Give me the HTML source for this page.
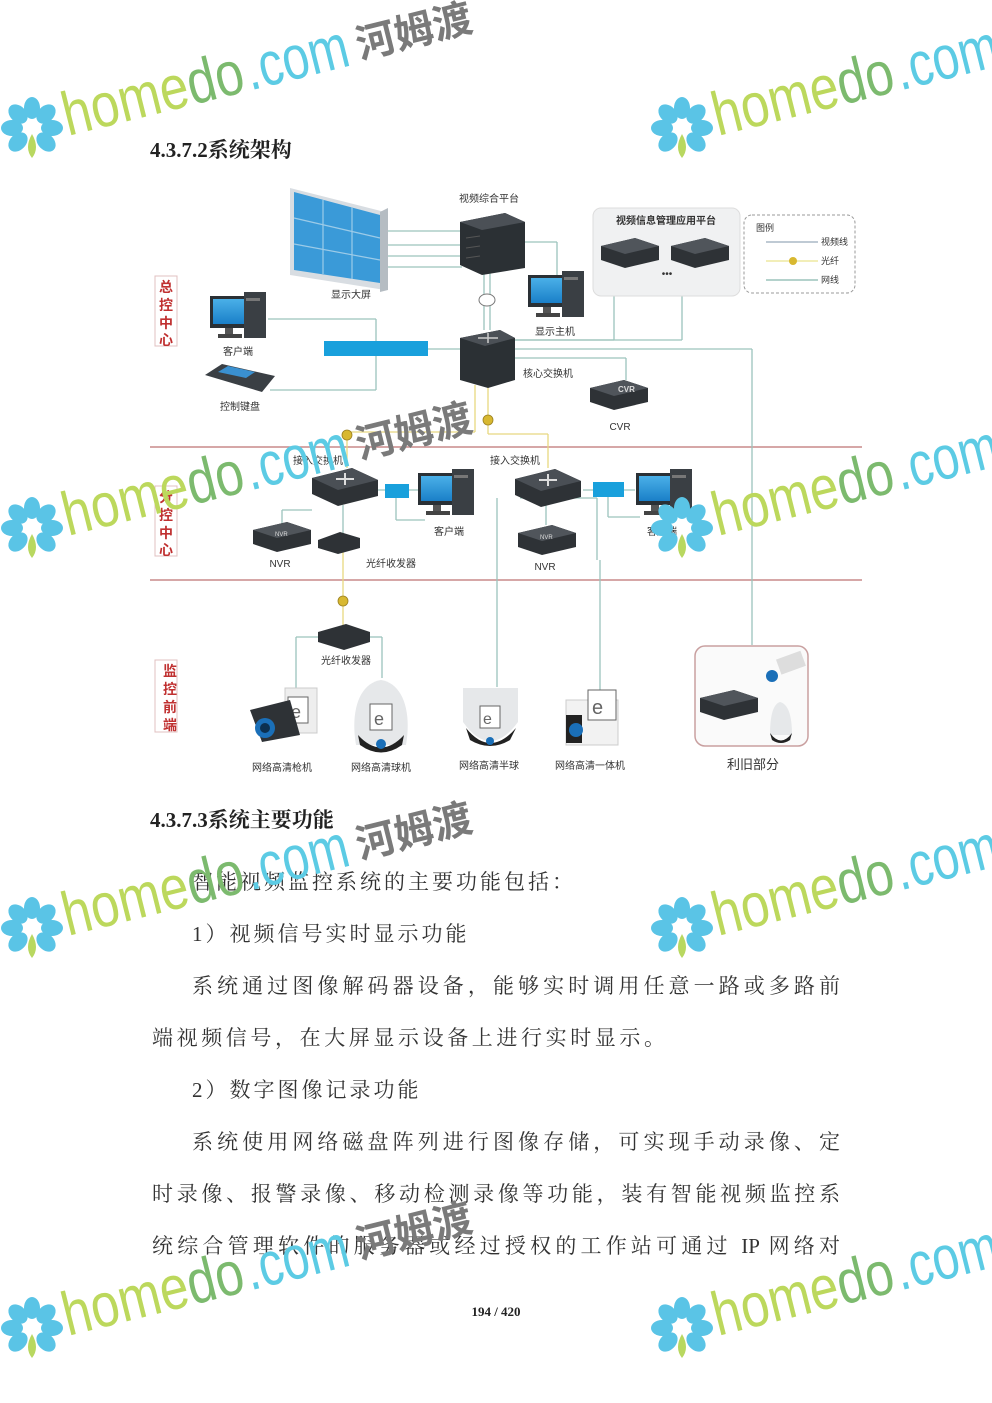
<!DOCTYPE html>
<html><head><meta charset="utf-8">
<style>
html,body{margin:0;padding:0;background:#fff;}
body{width:992px;height:1403px;position:relative;overflow:hidden;font-family:"Liberation Serif","Noto Serif CJK SC",serif;color:#222;}
.t{position:absolute;white-space:nowrap;}
.h{font-size:21px;font-weight:bold;left:150px;}
.p{font-family:"Liberation Serif","Noto Serif CJK SC",serif;font-size:21px;color:#333;transform-origin:0 0;}
.j{left:152px;width:688px;text-align:justify;text-align-last:justify;}
svg{position:absolute;left:0;top:0;}
</style></head><body>

<div class="t h" style="top:134px;">4.3.7.2系统架构</div>

<svg width="992" height="1403" viewBox="0 0 992 1403" style="font-family:'Liberation Sans','Noto Sans CJK SC',sans-serif;">
<defs>
<linearGradient id="blue" x1="0" y1="0" x2="0" y2="1"><stop offset="0" stop-color="#4ab0e8"/><stop offset="1" stop-color="#1a7fc8"/></linearGradient>
<g id="pc">
 <rect x="0" y="0" width="38" height="32" fill="#2a3035"/><rect x="3" y="3" width="32" height="25" fill="url(#blue)"/>
 <rect x="15" y="32" width="8" height="6" fill="#555"/><rect x="8" y="38" width="24" height="4" fill="#444"/>
 <rect x="34" y="-4" width="22" height="46" fill="#3a3f44"/><rect x="36" y="2" width="14" height="3" fill="#777"/>
</g>
<g id="sw">
 <polygon points="0,10 40,0 66,12 66,28 26,38 0,26" fill="#2e3236"/>
 <polygon points="0,10 40,0 66,12 26,22" fill="#4a4f55"/>
 <g stroke="#ddd" stroke-width="2"><line x1="24" y1="11" x2="42" y2="11"/><line x1="33" y1="5" x2="33" y2="17"/></g>
</g>
<g id="box">
 <polygon points="0,8 34,0 58,8 58,22 24,30 0,22" fill="#2e3236"/>
 <polygon points="0,8 34,0 58,8 24,16" fill="#50555b"/>
</g>
</defs>

<!-- red separators -->
<line x1="150" y1="447" x2="862" y2="447" stroke="#c98a8a" stroke-width="1.5"/>
<line x1="150" y1="580" x2="862" y2="580" stroke="#c98a8a" stroke-width="1.5"/>
<!-- side labels -->
<g font-size="14" fill="#c03030" font-weight="bold" text-anchor="middle">
 <rect x="155" y="276" width="22" height="70" fill="none" stroke="#e0c0c0"/>
 <text x="166" y="292">总</text><text x="166" y="310">控</text><text x="166" y="328">中</text><text x="166" y="345">心</text>
 <rect x="155" y="486" width="22" height="70" fill="none" stroke="#e0c0c0"/>
 <text x="166" y="502">分</text><text x="166" y="520">控</text><text x="166" y="538">中</text><text x="166" y="555">心</text>
 <rect x="155" y="660" width="22" height="72" fill="none" stroke="#e0c0c0"/>
 <text x="170" y="676">监</text><text x="170" y="694">控</text><text x="170" y="712">前</text><text x="170" y="730">端</text>
</g>

<!-- connection lines -->
<g stroke="#9cc4bc" stroke-width="1.3" fill="none">
 <line x1="385" y1="231" x2="462" y2="231"/><line x1="385" y1="245" x2="462" y2="245"/><line x1="385" y1="256" x2="462" y2="256"/><line x1="385" y1="267" x2="462" y2="267"/>
 <line x1="524" y1="242" x2="557" y2="242"/><line x1="557" y1="242" x2="557" y2="275"/>
 <line x1="484" y1="270" x2="484" y2="330"/><line x1="490" y1="270" x2="490" y2="330"/>
 <line x1="268" y1="319" x2="376" y2="319"/><line x1="376" y1="319" x2="376" y2="390"/><line x1="270" y1="390" x2="376" y2="390"/>
 <line x1="428" y1="349" x2="462" y2="349"/>
 <line x1="515" y1="340" x2="614" y2="340"/><line x1="614" y1="340" x2="614" y2="270"/>
 <line x1="515" y1="340" x2="682" y2="340"/><line x1="682" y1="340" x2="682" y2="270"/>
 <line x1="515" y1="349" x2="752" y2="349"/><line x1="752" y1="349" x2="752" y2="645"/>
 <line x1="515" y1="358" x2="626" y2="358"/><line x1="626" y1="358" x2="626" y2="380"/>
 <line x1="343" y1="505" x2="343" y2="535"/><line x1="282" y1="510" x2="282" y2="525"/><line x1="282" y1="510" x2="312" y2="510"/>
 <line x1="378" y1="490" x2="418" y2="490"/><line x1="396" y1="497" x2="396" y2="520"/><line x1="396" y1="520" x2="425" y2="520"/>
 <line x1="546" y1="505" x2="546" y2="525"/>
 <line x1="583" y1="490" x2="635" y2="490"/><line x1="608" y1="497" x2="608" y2="517"/><line x1="608" y1="517" x2="640" y2="517"/>
 <line x1="497" y1="498" x2="497" y2="687"/><line x1="520" y1="498" x2="597" y2="498"/><line x1="597" y1="498" x2="597" y2="560"/><line x1="600" y1="560" x2="600" y2="690"/>
 <line x1="296" y1="637" x2="296" y2="693"/><line x1="296" y1="637" x2="320" y2="637"/><line x1="370" y1="637" x2="382" y2="637"/><line x1="382" y1="637" x2="382" y2="678"/>
</g>
<g stroke="#e8d880" stroke-width="1.3" fill="none">
 <line x1="475" y1="385" x2="475" y2="432"/><line x1="475" y1="432" x2="347" y2="432"/><line x1="347" y1="432" x2="347" y2="468"/>
 <line x1="488" y1="385" x2="488" y2="434"/><line x1="488" y1="434" x2="548" y2="434"/><line x1="548" y1="434" x2="548" y2="468"/>
 <line x1="343" y1="552" x2="343" y2="625"/>
</g>
<g fill="#d8b830" stroke="#9a8020" stroke-width="0.8">
 <circle cx="347" cy="435" r="5"/><circle cx="488" cy="420" r="5"/><circle cx="343" cy="601" r="5"/>
</g>
<ellipse cx="487" cy="300" rx="8" ry="6" fill="#fff" stroke="#777"/>

<!-- video wall -->
<polygon points="290,188 385,212 385,290 290,275" fill="#d8dde2"/>
<polygon points="294,192 380,215 380,283 294,270" fill="#3a9ad8"/>
<g stroke="#9ccbe8" stroke-width="1.2"><line x1="323" y1="200" x2="323" y2="274"/><line x1="352" y1="207" x2="352" y2="279"/><line x1="294" y1="218" x2="380" y2="238"/><line x1="294" y1="244" x2="380" y2="260"/></g>
<polygon points="380,212 388,208 388,290 380,292" fill="#b5bcc2"/>

<!-- platform rack -->
<polygon points="460,222 505,213 525,222 525,268 482,275 460,265" fill="#2b3034"/>
<polygon points="460,222 505,213 525,222 482,230" fill="#4b5056"/>
<g stroke="#555" stroke-width="1"><line x1="466" y1="238" x2="480" y2="236"/><line x1="466" y1="248" x2="480" y2="246"/><line x1="466" y1="258" x2="480" y2="256"/></g>
<!-- core switch -->
<polygon points="460,338 500,330 515,338 515,380 488,388 460,380" fill="#2b3034"/>
<polygon points="460,338 500,330 515,338 485,346" fill="#4b5056"/>
<g stroke="#ccc" stroke-width="1.5"><line x1="478" y1="338" x2="498" y2="338"/><line x1="488" y1="333" x2="488" y2="343"/></g>

<use href="#pc" x="528" y="275"/>
<use href="#pc" x="210" y="296"/>
<use href="#pc" x="418" y="473"/>
<use href="#pc" x="636" y="473"/>
<!-- keyboard -->
<polygon points="205,375 222,364 275,376 262,392" fill="#3a3f44"/><polygon points="218,372 228,366 255,372 246,378" fill="#3a90d0"/>
<!-- blue bars -->
<rect x="324" y="341" width="104" height="15" fill="#19a0dc"/>
<rect x="385" y="484" width="24" height="14" fill="#19a0dc"/>
<rect x="593" y="482" width="31" height="15" fill="#19a0dc"/>

<!-- info platform -->
<rect x="593" y="208" width="147" height="88" rx="8" fill="#f0f1f2" stroke="#ddd"/>
<use href="#box" x="601" y="238" transform="scale(1)"/>
<use href="#box" x="671" y="238"/>
<text x="666" y="224" font-size="10" font-weight="bold" fill="#333" text-anchor="middle">视频信息管理应用平台</text>
<text x="667" y="277" font-size="10" fill="#333" text-anchor="middle">•••</text>
<!-- legend -->
<rect x="744" y="215" width="111" height="78" rx="8" fill="#fff" stroke="#999" stroke-dasharray="3,2"/>
<text x="756" y="231" font-size="9" fill="#333">图例</text>
<line x1="766" y1="242" x2="818" y2="242" stroke="#aab8c6" stroke-width="1.5"/><text x="821" y="245" font-size="9" fill="#333">视频线</text>
<line x1="766" y1="261" x2="818" y2="261" stroke="#eee8a0" stroke-width="1.5"/><circle cx="793" cy="261" r="4" fill="#d8b830"/><text x="821" y="264" font-size="9" fill="#333">光纤</text>
<line x1="766" y1="280" x2="818" y2="280" stroke="#9cc4bc" stroke-width="1.5"/><text x="821" y="283" font-size="9" fill="#333">网线</text>

<!-- CVR -->
<use href="#box" x="590" y="380" transform="translate(-0,0)"/>
<text x="618" y="392" font-size="8" fill="#ddd" font-weight="bold">CVR</text>

<!-- access switches -->
<use href="#sw" x="312" y="468"/>
<use href="#sw" x="515" y="469"/>
<!-- NVRs & transceivers -->
<use href="#box" x="253" y="522"/><text x="275" y="536" font-size="6" fill="#ddd">NVR</text>
<use href="#box" x="518" y="525"/><text x="540" y="539" font-size="6" fill="#ddd">NVR</text>
<polygon points="318,540 340,532 360,538 360,548 338,554 318,548" fill="#2e3236"/>
<polygon points="318,632 346,624 370,632 370,642 344,650 318,642" fill="#2e3236"/>

<!-- cameras -->
<g>
 <rect x="285" y="688" width="32" height="45" fill="#eee" stroke="#ccc"/><rect x="288" y="697" width="20" height="26" fill="#fff" stroke="#666"/><text x="291" y="718" font-size="18" fill="#666">e</text>
 <polygon points="250,710 290,700 300,735 262,742" fill="#2e3236"/><circle cx="265" cy="728" r="10" fill="#1a6fb8"/><circle cx="265" cy="728" r="5" fill="#0c3050"/>
</g>
<g>
 <path d="M356,745 C350,710 360,683 381,680 C402,683 412,710 406,745 Z" fill="#e6e8ea"/>
 <path d="M358,735 Q381,760 404,735 L402,745 Q381,760 360,745Z" fill="#222"/><circle cx="381" cy="744" r="5" fill="#1a6fb8"/>
 <rect x="370" y="704" width="22" height="26" fill="#fff" stroke="#666"/><text x="374" y="725" font-size="18" fill="#666">e</text>
</g>
<g>
 <path d="M463,688 L518,688 L518,722 Q490,760 463,722Z" fill="#e6e8ea"/>
 <path d="M466,728 Q490,758 516,728 L510,740 Q490,752 470,740Z" fill="#222"/><circle cx="490" cy="741" r="4" fill="#1a6fb8"/>
 <rect x="480" y="706" width="20" height="22" fill="#fff" stroke="#666"/><text x="483" y="724" font-size="16" fill="#666">e</text>
</g>
<g>
 <rect x="566" y="700" width="52" height="45" fill="#f2f2f2" stroke="#ccc"/><rect x="588" y="690" width="28" height="30" fill="#fff" stroke="#666"/><text x="592" y="714" font-size="20" fill="#666">e</text>
 <rect x="566" y="715" width="16" height="28" fill="#222"/><circle cx="576" cy="730" r="7" fill="#1a6fb8"/>
</g>

<!-- legacy box -->
<rect x="695" y="646" width="113" height="100" rx="10" fill="#fafafa" stroke="#c9a0a0" stroke-width="1.5"/>
<use href="#box" x="700" y="690"/>
<g><rect x="778" y="655" width="26" height="16" fill="#ddd" transform="rotate(-20 790 663)"/><circle cx="772" cy="676" r="6" fill="#1a6fb8"/></g>
<g><path d="M770,735 Q770,705 780,702 Q792,705 792,735Z" fill="#e6e8ea"/><path d="M770,733 Q781,748 792,733 L790,740 Q781,746 772,740Z" fill="#222"/></g>

<!-- labels -->
<g font-size="10" fill="#333" text-anchor="middle">
 <text x="489" y="202">视频综合平台</text>
 <text x="351" y="298">显示大屏</text>
 <text x="555" y="335">显示主机</text>
 <text x="238" y="355">客户端</text>
 <text x="240" y="410">控制键盘</text>
 <text x="548" y="377">核心交换机</text>
 <text x="620" y="430">CVR</text>
 <text x="318" y="464">接入交换机</text>
 <text x="515" y="464">接入交换机</text>
 <text x="449" y="535">客户端</text>
 <text x="662" y="535">客户端</text>
 <text x="280" y="567">NVR</text>
 <text x="391" y="567">光纤收发器</text>
 <text x="545" y="570">NVR</text>
 <text x="346" y="664">光纤收发器</text>
 <text x="282" y="771">网络高清枪机</text>
 <text x="381" y="771">网络高清球机</text>
 <text x="489" y="769">网络高清半球</text>
 <text x="590" y="769">网络高清一体机</text>
 <text x="753" y="769" font-size="13">利旧部分</text>
</g>
</svg>

<div class="t h" style="top:804px;">4.3.7.3系统主要功能</div>
<div class="t p" style="left:192px;top:866px;letter-spacing:3px;">智能视频监控系统的主要功能包括：</div>
<div class="t p" style="left:192px;top:918px;letter-spacing:3px;">1）视频信号实时显示功能</div>
<div class="t p j" style="left:192px;width:648px;top:970px;">系统通过图像解码器设备，能够实时调用任意一路或多路前</div>
<div class="t p" style="left:152px;top:1022px;letter-spacing:3.6px;">端视频信号，在大屏显示设备上进行实时显示。</div>
<div class="t p" style="left:192px;top:1074px;letter-spacing:3px;">2）数字图像记录功能</div>
<div class="t p j" style="left:192px;width:648px;top:1126px;">系统使用网络磁盘阵列进行图像存储，可实现手动录像、定</div>
<div class="t p j" style="top:1178px;">时录像、报警录像、移动检测录像等功能，装有智能视频监控系</div>
<div class="t p j" style="top:1230px;">统综合管理软件的服务器或经过授权的工作站可通过 IP 网络对</div>
<div class="t" style="left:0;width:992px;text-align:center;top:1304px;font-size:13px;font-weight:bold;">194 / 420</div>

<!-- watermarks -->
<svg width="992" height="1403" viewBox="0 0 992 1403">
<defs>
<g id="fl">
 <g fill="#5ac4e6">
  <ellipse cx="0" cy="-20" rx="8" ry="11"/><ellipse cx="14" cy="-14" rx="8" ry="11" transform="rotate(45 14 -14)"/>
  <ellipse cx="20" cy="0" rx="11" ry="8"/><ellipse cx="14" cy="14" rx="8" ry="11" transform="rotate(-45 14 14)"/>
  <ellipse cx="-14" cy="-14" rx="8" ry="11" transform="rotate(-45 -14 -14)"/><ellipse cx="-20" cy="0" rx="11" ry="8"/>
  <ellipse cx="-14" cy="14" rx="8" ry="11" transform="rotate(45 -14 14)"/>
 </g>
 <path d="M0,6 Q-8,20 0,30 Q8,20 0,6Z" fill="#b8d860"/>
</g>
<g id="wm">
 <use href="#fl" x="32" y="128"/>
 <g transform="translate(68,136) rotate(-14)" font-family="'Liberation Sans',sans-serif" font-size="62">
  <text x="0" y="0" textLength="180" lengthAdjust="spacingAndGlyphs"><tspan fill="#bcd85c">home</tspan><tspan fill="#7cba6e">do</tspan><tspan fill="#5ccbe4">.com</tspan></text>
 </g>
</g>
<g id="wmL">
 <use href="#wm"/>
 <g transform="translate(68,136) rotate(-14)">
  <text x="0" y="0" font-family="'Liberation Sans',sans-serif" font-size="62" textLength="290" lengthAdjust="spacingAndGlyphs" fill="none"> </text>
 </g>
</g>
</defs>
<g id="w0">
 <use href="#fl" x="32" y="128"/>
 <g transform="translate(68,136) rotate(-14)" font-family="'Liberation Sans',sans-serif" font-size="62">
  <text x="0" y="0" textLength="185" lengthAdjust="spacingAndGlyphs" fill="#bcd85c">home<tspan fill="#7cba6e">do</tspan></text>
  <text x="188" y="0" textLength="105" lengthAdjust="spacingAndGlyphs" fill="#5ccbe4">.com</text>
  <text x="302" y="-4" font-family="'Noto Sans CJK SC',sans-serif" font-weight="bold" font-size="40" fill="#7a7a7a" textLength="118" lengthAdjust="spacingAndGlyphs">河姆渡</text>
 </g>
</g>
<g transform="translate(650,0)">
 <use href="#fl" x="32" y="128"/>
 <g transform="translate(68,136) rotate(-14)" font-family="'Liberation Sans',sans-serif" font-size="62">
  <text x="0" y="0" textLength="185" lengthAdjust="spacingAndGlyphs" fill="#bcd85c">home<tspan fill="#7cba6e">do</tspan></text>
  <text x="188" y="0" textLength="105" lengthAdjust="spacingAndGlyphs" fill="#5ccbe4">.com</text>
 </g>
</g>
<use href="#w0" y="400"/><use href="#w0" y="800"/><use href="#w0" y="1200"/>
<g transform="translate(650,400)">
 <use href="#fl" x="32" y="128"/>
 <g transform="translate(68,136) rotate(-14)" font-family="'Liberation Sans',sans-serif" font-size="62">
  <text x="0" y="0" textLength="185" lengthAdjust="spacingAndGlyphs" fill="#bcd85c">home<tspan fill="#7cba6e">do</tspan></text>
  <text x="188" y="0" textLength="105" lengthAdjust="spacingAndGlyphs" fill="#5ccbe4">.com</text>
 </g>
</g>
<g transform="translate(650,800)">
 <use href="#fl" x="32" y="128"/>
 <g transform="translate(68,136) rotate(-14)" font-family="'Liberation Sans',sans-serif" font-size="62">
  <text x="0" y="0" textLength="185" lengthAdjust="spacingAndGlyphs" fill="#bcd85c">home<tspan fill="#7cba6e">do</tspan></text>
  <text x="188" y="0" textLength="105" lengthAdjust="spacingAndGlyphs" fill="#5ccbe4">.com</text>
 </g>
</g>
<g transform="translate(650,1200)">
 <use href="#fl" x="32" y="128"/>
 <g transform="translate(68,136) rotate(-14)" font-family="'Liberation Sans',sans-serif" font-size="62">
  <text x="0" y="0" textLength="185" lengthAdjust="spacingAndGlyphs" fill="#bcd85c">home<tspan fill="#7cba6e">do</tspan></text>
  <text x="188" y="0" textLength="105" lengthAdjust="spacingAndGlyphs" fill="#5ccbe4">.com</text>
 </g>
</g>
</svg>
</body></html>
